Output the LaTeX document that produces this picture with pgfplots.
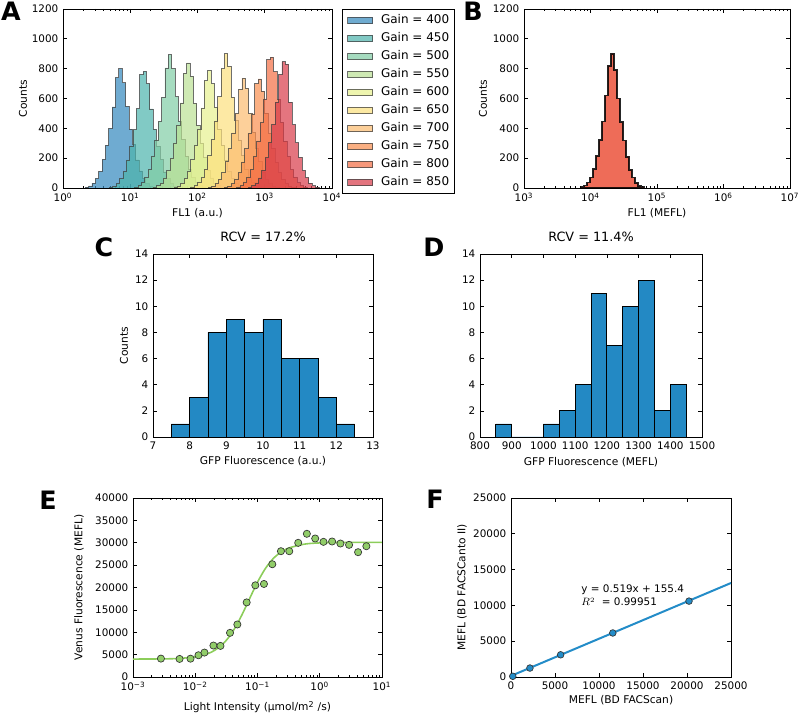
\documentclass[border=0pt]{standalone}
\usepackage{pgfplots}
\pgfplotsset{compat=1.18}
\usepackage{fontspec}
\setmainfont{DejaVu Sans}

\newcommand{\tf}{\fontsize{7.8}{9}\selectfont}
\newcommand{\lf}{\fontsize{8}{9.5}\selectfont}
\newcommand{\tp}[1]{10\textsuperscript{#1}}

\definecolor{c400}{HTML}{3288BD}
\definecolor{c450}{HTML}{4CB3AC}
\definecolor{c500}{HTML}{80CDA5}
\definecolor{c550}{HTML}{BAE194}
\definecolor{c600}{HTML}{E7F18E}
\definecolor{c650}{HTML}{FCE07D}
\definecolor{c700}{HTML}{FCBC6F}
\definecolor{c750}{HTML}{F98E4E}
\definecolor{c800}{HTML}{F46D43}
\definecolor{c850}{HTML}{D83A48}
\definecolor{bred}{RGB}{238,108,88}
\definecolor{barblue}{HTML}{2389C4}
\definecolor{eline}{RGB}{140,205,90}
\definecolor{emark}{RGB}{145,205,105}
\definecolor{fblue}{RGB}{35,140,200}

\pgfplotsset{
  panel/.style={scale only axis, anchor=south west,
    axis line style={line width=0.6pt, black},
    every tick/.style={black, line width=0.5pt},
    major tick length=3pt, minor tick length=1.6pt, tick align=inside,
    ticklabel style={font=\tf}, label style={font=\lf},
    title style={font=\fontsize{9.6}{11}\selectfont, at={(0.5,1)}, anchor=south, yshift=0pt},
    /pgf/number format/assume math mode=true,
    /pgf/number format/1000 sep={}, scaled ticks=false},
  xlab/.style={xlabel style={at={(axis description cs:0.5,#1)}, anchor=center}},
  ylab/.style={ylabel style={at={(axis description cs:#1,0.5)}, anchor=center}},
  hist/.style={const plot, fill=#1, fill opacity=0.7, draw=black!75, draw opacity=0.75, line width=0.5pt},
}

\begin{document}
\begin{tikzpicture}
\path[use as bounding box] (0,0) rectangle (600pt,535.5pt);

% ---------------- Panel A ----------------
\begin{axis}[panel, at={(47.25pt,394.5pt)}, width=201.75pt, height=134.25pt,
  xmin=0, xmax=4, ymin=0, ymax=1200,
  xtick={0,1,2,3,4}, xticklabels={\tp{0},\tp{1},\tp{2},\tp{3},\tp{4}},
  minor xtick={0.301,0.477,0.602,0.699,0.778,0.845,0.903,0.954,1.301,1.477,1.602,1.699,1.778,1.845,1.903,1.954,2.301,2.477,2.602,2.699,2.778,2.845,2.903,2.954,3.301,3.477,3.602,3.699,3.778,3.845,3.903,3.954},
  ytick={0,200,...,1200},
  xlabel={FL1 (a.u.)}, ylabel={Counts}, xlab=-0.140, ylab=-0.149,
  legend cell align=left,
  legend style={at={(1.037,1)}, anchor=north west, draw=black, line width=0.6pt, fill=white,
    inner xsep=3.75pt, inner ysep=3pt, row sep=3pt, font=\fontsize{9}{10}\selectfont,
    nodes={inner xsep=0pt, inner ysep=1pt, text height=6.6pt, text depth=1.9pt},
    /tikz/every odd column/.append style={column sep=6pt}},
  legend image code/.code={\draw[#1] (0pt,-2.5pt) rectangle (18.75pt,2.5pt);},
]
\addplot[hist=c400] coordinates {(0.33,6)(0.38,14)(0.43,32)(0.48,64)(0.53,112)(0.58,192)(0.63,288)(0.68,400)(0.73,544)(0.78,740)(0.83,800)(0.88,705)(0.93,548)(0.98,395)(1.03,290)(1.08,188)(1.13,115)(1.18,62)(1.23,30)(1.28,14)(1.33,6)(1.38,0)} \closedcycle;
\addlegendentry{Gain = 400}
\addplot[hist=c450] coordinates {(0.69,5)(0.74,14)(0.79,31)(0.84,63)(0.89,109)(0.94,188)(0.99,282)(1.04,391)(1.09,532)(1.14,760)(1.19,782)(1.24,700)(1.29,530)(1.34,395)(1.39,280)(1.44,190)(1.49,108)(1.54,63)(1.59,31)(1.64,13)(1.69,5)(1.74,0)} \closedcycle;
\addlegendentry{Gain = 450}
\addplot[hist=c500] coordinates {(1.065,6)(1.115,16)(1.165,36)(1.215,72)(1.265,125)(1.315,215)(1.365,322)(1.415,447)(1.465,608)(1.515,805)(1.565,894)(1.615,800)(1.665,612)(1.715,445)(1.765,325)(1.815,212)(1.865,127)(1.915,70)(1.965,36)(2.015,16)(2.065,6)(2.115,0)} \closedcycle;
\addlegendentry{Gain = 500}
\addplot[hist=c550] coordinates {(1.34,6)(1.39,15)(1.44,34)(1.49,67)(1.54,117)(1.59,201)(1.64,302)(1.69,419)(1.74,570)(1.79,770)(1.84,838)(1.89,750)(1.94,568)(1.99,420)(2.04,300)(2.09,203)(2.14,116)(2.19,68)(2.24,33)(2.29,15)(2.34,6)(2.39,0)} \closedcycle;
\addlegendentry{Gain = 550}
\addplot[hist=c600] coordinates {(1.65,6)(1.70,14)(1.75,32)(1.80,63)(1.85,110)(1.90,189)(1.95,284)(2.00,395)(2.05,537)(2.10,720)(2.15,789)(2.20,700)(2.25,540)(2.30,392)(2.35,286)(2.40,187)(2.45,111)(2.50,62)(2.55,32)(2.60,14)(2.65,6)(2.70,0)} \closedcycle;
\addlegendentry{Gain = 600}
\addplot[hist=c650] coordinates {(1.90,6)(1.95,16)(2.00,36)(2.05,72)(2.10,126)(2.15,216)(2.20,324)(2.25,450)(2.30,612)(2.35,800)(2.40,900)(2.45,815)(2.50,610)(2.55,452)(2.60,322)(2.65,218)(2.70,125)(2.75,73)(2.80,35)(2.85,16)(2.90,6)(2.95,0)} \closedcycle;
\addlegendentry{Gain = 650}
\addplot[hist=c700] coordinates {(2.16,5)(2.21,13)(2.26,29)(2.31,59)(2.36,103)(2.41,177)(2.46,265)(2.51,369)(2.56,501)(2.61,663)(2.66,737)(2.71,670)(2.76,500)(2.81,370)(2.86,263)(2.91,178)(2.96,102)(3.01,60)(3.06,29)(3.11,13)(3.16,5)(3.21,0)} \closedcycle;
\addlegendentry{Gain = 700}
\addplot[hist=c750] coordinates {(2.40,5)(2.45,13)(2.50,29)(2.55,58)(2.60,102)(2.65,175)(2.70,263)(2.75,366)(2.80,497)(2.85,700)(2.90,731)(2.95,650)(3.00,500)(3.05,364)(3.10,265)(3.15,173)(3.20,103)(3.25,57)(3.30,29)(3.35,13)(3.40,5)(3.45,0)} \closedcycle;
\addlegendentry{Gain = 750}
\addplot[hist=c800] coordinates {(2.58,6)(2.63,16)(2.68,35)(2.73,70)(2.78,123)(2.83,211)(2.88,316)(2.93,439)(2.98,597)(3.03,860)(3.08,878)(3.13,780)(3.18,595)(3.23,440)(3.28,314)(3.33,212)(3.38,122)(3.43,71)(3.48,35)(3.53,16)(3.58,6)(3.63,0)} \closedcycle;
\addlegendentry{Gain = 800}
\addplot[hist=c850] coordinates {(2.755,6)(2.805,15)(2.855,34)(2.905,68)(2.955,119)(3.005,203)(3.055,305)(3.105,424)(3.155,576)(3.205,762)(3.255,847)(3.305,830)(3.355,575)(3.405,425)(3.455,303)(3.505,205)(3.555,118)(3.605,69)(3.655,33)(3.705,15)(3.755,6)(3.805,0)} \closedcycle;
\addlegendentry{Gain = 850}
\end{axis}

% ---------------- Panel B ----------------
\begin{axis}[panel, at={(393pt,394.5pt)}, width=199.5pt, height=134.25pt,
  xmin=3, xmax=7, ymin=0, ymax=1200,
  xtick={3,4,5,6,7}, xticklabels={\tp{3},\tp{4},\tp{5},\tp{6},\tp{7}},
  minor xtick={3.301,3.477,3.602,3.699,3.778,3.845,3.903,3.954,4.301,4.477,4.602,4.699,4.778,4.845,4.903,4.954,5.301,5.477,5.602,5.699,5.778,5.845,5.903,5.954,6.301,6.477,6.602,6.699,6.778,6.845,6.903,6.954},
  ytick={0,200,...,1200},
  xlabel={FL1 (MEFL)}, ylabel={Counts}, xlab=-0.140, ylab=-0.154]
\addplot[const plot, fill=bred, draw=black, draw opacity=0.85, line width=1.3pt] coordinates {(3.858,6)(3.903,16)(3.948,36)(3.993,71)(4.038,125)(4.083,214)(4.128,320)(4.173,445)(4.218,620)(4.263,820)(4.308,900)(4.353,790)(4.398,600)(4.443,440)(4.488,318)(4.533,210)(4.578,122)(4.623,70)(4.668,34)(4.713,15)(4.758,6)(4.803,0)} \closedcycle;
\end{axis}

% ---------------- Panel C ----------------
\begin{axis}[panel, at={(114.75pt,207.75pt)}, width=165pt, height=137.25pt,
  xmin=7, xmax=13, ymin=0, ymax=14, xtick={7,8,...,13}, ytick={0,2,...,14},
  title={RCV = 17.2\%}, xlabel={GFP Fluorescence (a.u.)}, ylabel={Counts},
  xlab=-0.131, ylab=-0.132]
\addplot[ybar interval, fill=barblue, draw=black, line width=0.6pt] coordinates {(7.5,1)(8,3)(8.5,8)(9,9)(9.5,8)(10,9)(10.5,6)(11,6)(11.5,3)(12,1)(12.5,1)};
\end{axis}

% ---------------- Panel D ----------------
\begin{axis}[panel, at={(360pt,207.75pt)}, width=166.5pt, height=137.25pt,
  xmin=800, xmax=1500, ymin=0, ymax=14, xtick={800,900,...,1500}, ytick={0,2,...,14},
  title={RCV = 11.4\%}, xlabel={GFP Fluorescence (MEFL)}, xlab=-0.137]
\addplot[ybar interval, fill=barblue, draw=black, line width=0.6pt] coordinates {(850,1)(900,0)(950,0)(1000,1)(1050,2)(1100,4)(1150,11)(1200,7)(1250,10)(1300,12)(1350,2)(1400,4)(1450,4)};
\end{axis}

% ---------------- Panel E ----------------
\begin{axis}[panel, at={(99.75pt,27.75pt)}, width=186.75pt, height=134.25pt,
  xmode=log, xmin=0.001, xmax=10, ymin=0, ymax=40000,
  xtick={0.001,0.01,0.1,1,10}, xticklabels={\tp{−3},\tp{−2},\tp{−1},\tp{0},\tp{1}},
  minor xtick={0.002,0.003,0.004,0.005,0.006,0.007,0.008,0.009,0.02,0.03,0.04,0.05,0.06,0.07,0.08,0.09,0.2,0.3,0.4,0.5,0.6,0.7,0.8,0.9,2,3,4,5,6,7,8,9},
  ytick={0,5000,...,40000},
  xlabel={Light Intensity (µmol/m\textsuperscript{2} /s)}, ylabel={Venus Fluorescence (MEFL)},
  xlab=-0.168, ylab=-0.217]
\addplot[no marks, smooth, color=eline, line width=1.2pt] coordinates {(0.001,4005)(0.003162,4050)(0.005623,4158)(0.01,4494)(0.01334,4865)(0.01778,5499)(0.02371,6553)(0.03162,8218)(0.04217,10663)(0.05623,13884)(0.07499,17573)(0.1,21187)(0.1334,24207)(0.1778,26420)(0.2371,27895)(0.3162,28813)(0.5623,29679)(1,29965)(3.162,30086)(10,30099)};
\addplot[only marks, mark=*, mark size=2.7pt, mark options={fill=emark, draw=black!80, line width=0.5pt}] coordinates {(0.00281,4110)(0.0056,4040)(0.0084,4100)(0.01127,4860)(0.01406,5460)(0.0196,7030)(0.0254,6950)(0.0362,9870)(0.0475,11740)(0.067,16670)(0.0923,20490)(0.127,20790)(0.173,25200)(0.238,28110)(0.324,28110)(0.451,29980)(0.621,32000)(0.845,30950)(1.148,30200)(1.58,30280)(2.15,29830)(2.96,29530)(4.13,27890)(5.61,29230)};
\end{axis}

% ---------------- Panel F ----------------
\begin{axis}[panel, at={(383.25pt,27.75pt)}, width=165pt, height=134.25pt,
  xmin=0, xmax=25000, ymin=0, ymax=25000,
  xtick={0,5000,...,25000}, ytick={0,5000,...,25000},
  xlabel={MEFL (BD FACScan)}, ylabel={MEFL (BD FACSCanto II)},
  xlab=-0.128, ylab=-0.223]
\addplot[no marks, color=fblue, line width=1.5pt] coordinates {(0,155.4)(25000,13130.4)};
\addplot[only marks, mark=*, mark size=2.5pt, mark options={fill=fblue, draw=black!80, line width=0.5pt}] coordinates {(200,100)(2150,1250)(5640,3100)(11570,6150)(20230,10600)};
\node[anchor=west, font=\tf, inner sep=0pt] at (axis cs:7980,12170) {y = 0.519x + 155.4};
\node[anchor=west, font=\tf, inner sep=0pt] at (axis cs:7980,10470) {$R^2$\ \ = 0.99951};
\end{axis}

% panel letters
\begin{scope}[every node/.style={font=\bfseries\fontsize{19}{19}\selectfont, anchor=base, inner sep=0pt}]
\node at (8.25pt,519.75pt) {A};
\node at (354.75pt,519.75pt) {B};
\node at (78pt,342.75pt) {C};
\node at (325.5pt,342.75pt) {D};
\node at (36pt,153pt) {E};
\node at (326.25pt,153.75pt) {F};
\end{scope}
\end{tikzpicture}
\end{document}
